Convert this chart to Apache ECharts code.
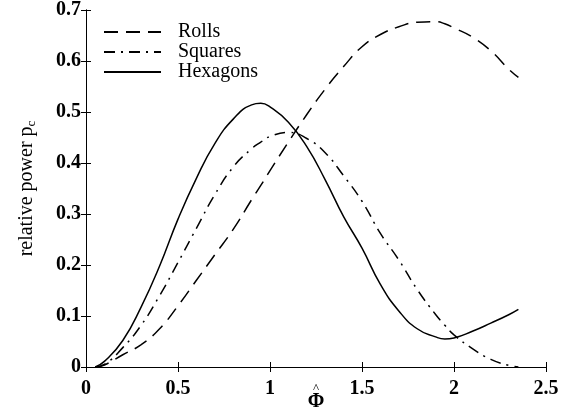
<!DOCTYPE html>
<html>
<head>
<meta charset="utf-8">
<script src="https://cdn.jsdelivr.net/npm/echarts@6/dist/echarts.min.js"></script>
<style>
  html, body { margin: 0; padding: 0; background: #fff; }
  #chart { width: 574px; height: 409px; }
</style>
</head>
<body>
<div id="chart"></div>
<script>
// Φ̂ sample points
var phi = [0.05, 0.1, 0.2, 0.3, 0.4, 0.5, 0.6, 0.7, 0.8, 0.9, 0.95, 1.0, 1.1, 1.2, 1.3, 1.4, 1.5, 1.6, 1.7, 1.8, 1.9, 1.95, 2.0, 2.1, 2.2, 2.3, 2.35];

// relative power p_c for each pattern
var rolls    = [0, 0.004, 0.024, 0.044, 0.075, 0.12, 0.17, 0.22, 0.27, 0.328, 0.356, 0.385, 0.441, 0.495, 0.545, 0.589, 0.628, 0.652, 0.667, 0.676, 0.677, 0.673, 0.665, 0.647, 0.62, 0.583, 0.568];
var squares  = [0, 0.005, 0.038, 0.082, 0.14, 0.205, 0.272, 0.338, 0.392, 0.428, 0.441, 0.452, 0.46, 0.448, 0.42, 0.375, 0.325, 0.262, 0.21, 0.152, 0.103, 0.082, 0.063, 0.036, 0.015, 0.003, 0];
var hexagons = [0, 0.011, 0.052, 0.118, 0.198, 0.29, 0.37, 0.438, 0.486, 0.514, 0.517, 0.51, 0.48, 0.432, 0.367, 0.295, 0.233, 0.162, 0.11, 0.075, 0.059, 0.055, 0.057, 0.07, 0.086, 0.103, 0.113];

var xTicks = [0, 0.5, 1, 1.5, 2, 2.5];
var yTicks = [0, 0.1, 0.2, 0.3, 0.4, 0.5, 0.6, 0.7];

function pairs(ys) {
    return phi.map(function (x, i) { return [x, ys[i]]; });
}

var serif = 'Liberation Serif';
var tick = { show: true, inside: true, length: 5, lineStyle: { color: '#000' } };
var line = { show: true, lineStyle: { color: '#000', width: 1 } };

var myChart = echarts.init(document.getElementById('chart'));
myChart.setOption({
    animation: false,
    grid: { left: 86, right: 28, top: 10, bottom: 42, outerBoundsMode: 'none' },
    legend: {
        orient: 'vertical',
        left: 103,
        top: 22,
        padding: 0,
        itemGap: 0,
        itemWidth: 57,
        itemHeight: 12,
        itemStyle: { opacity: 0 },
        textStyle: { fontFamily: serif, fontSize: 20, color: '#000', lineHeight: 19.5, padding: [0, 0, 0, 12] },
        data: ['Rolls', 'Squares', 'Hexagons']
    },
    xAxis: [
        {
            type: 'value',
            min: xTicks[0], max: xTicks[xTicks.length - 1], interval: 0.5,
            name: '{h|^}\n{p|Φ}',
            nameLocation: 'middle',
            nameGap: 18,
            nameMoveOverlap: false,
            nameTextStyle: {
                rich: {
                    h: { fontFamily: serif, fontSize: 13, color: '#000', lineHeight: 8, align: 'center' },
                    p: { fontFamily: serif, fontSize: 20, fontWeight: 'bold', color: '#000', lineHeight: 18, align: 'center' }
                }
            },
            axisLine: line, axisTick: tick,
            splitLine: { show: false },
            axisLabel: { fontFamily: serif, fontSize: 20, fontWeight: 'bold', color: '#000', margin: 12 }
        },
        {
            type: 'value', position: 'top',
            min: xTicks[0], max: xTicks[xTicks.length - 1], interval: 0.5,
            axisLine: line, axisTick: tick,
            splitLine: { show: false }, axisLabel: { show: false }
        }
    ],
    yAxis: [
        {
            type: 'value',
            min: yTicks[0], max: yTicks[yTicks.length - 1], interval: 0.1,
            name: '{a|relative power p}{b|c}',
            nameLocation: 'middle',
            nameRotate: 90,
            nameGap: 48,
            nameMoveOverlap: false,
            nameTextStyle: {
                fontFamily: serif, color: '#000',
                rich: {
                    a: { fontFamily: serif, fontSize: 20, color: '#000', lineHeight: 22 },
                    b: { fontFamily: serif, fontSize: 13, color: '#000', lineHeight: 13, verticalAlign: 'bottom', padding: [8, 0, 0, 0] }
                }
            },
            axisLine: line, axisTick: tick,
            splitLine: { show: false },
            axisLabel: { fontFamily: serif, fontSize: 20, fontWeight: 'bold', color: '#000', margin: 5 }
        },
        {
            type: 'value', position: 'right',
            min: yTicks[0], max: yTicks[yTicks.length - 1], interval: 0.1,
            axisLine: line, axisTick: tick,
            splitLine: { show: false }, axisLabel: { show: false }
        }
    ],
    series: [
        {
            name: 'Rolls', type: 'line', smooth: true, symbol: 'none',
            lineStyle: { color: '#000', width: 1.5, type: [14, 8] },
            itemStyle: { color: '#000' },
            data: pairs(rolls)
        },
        {
            name: 'Squares', type: 'line', smooth: true, symbol: 'none',
            lineStyle: { color: '#000', width: 1.5, type: [11, 6, 2, 6] },
            itemStyle: { color: '#000' },
            data: pairs(squares)
        },
        {
            name: 'Hexagons', type: 'line', smooth: true, symbol: 'none',
            lineStyle: { color: '#000', width: 1.5, type: 'solid' },
            itemStyle: { color: '#000' },
            data: pairs(hexagons)
        }
    ]
});
</script>
</body>
</html>
